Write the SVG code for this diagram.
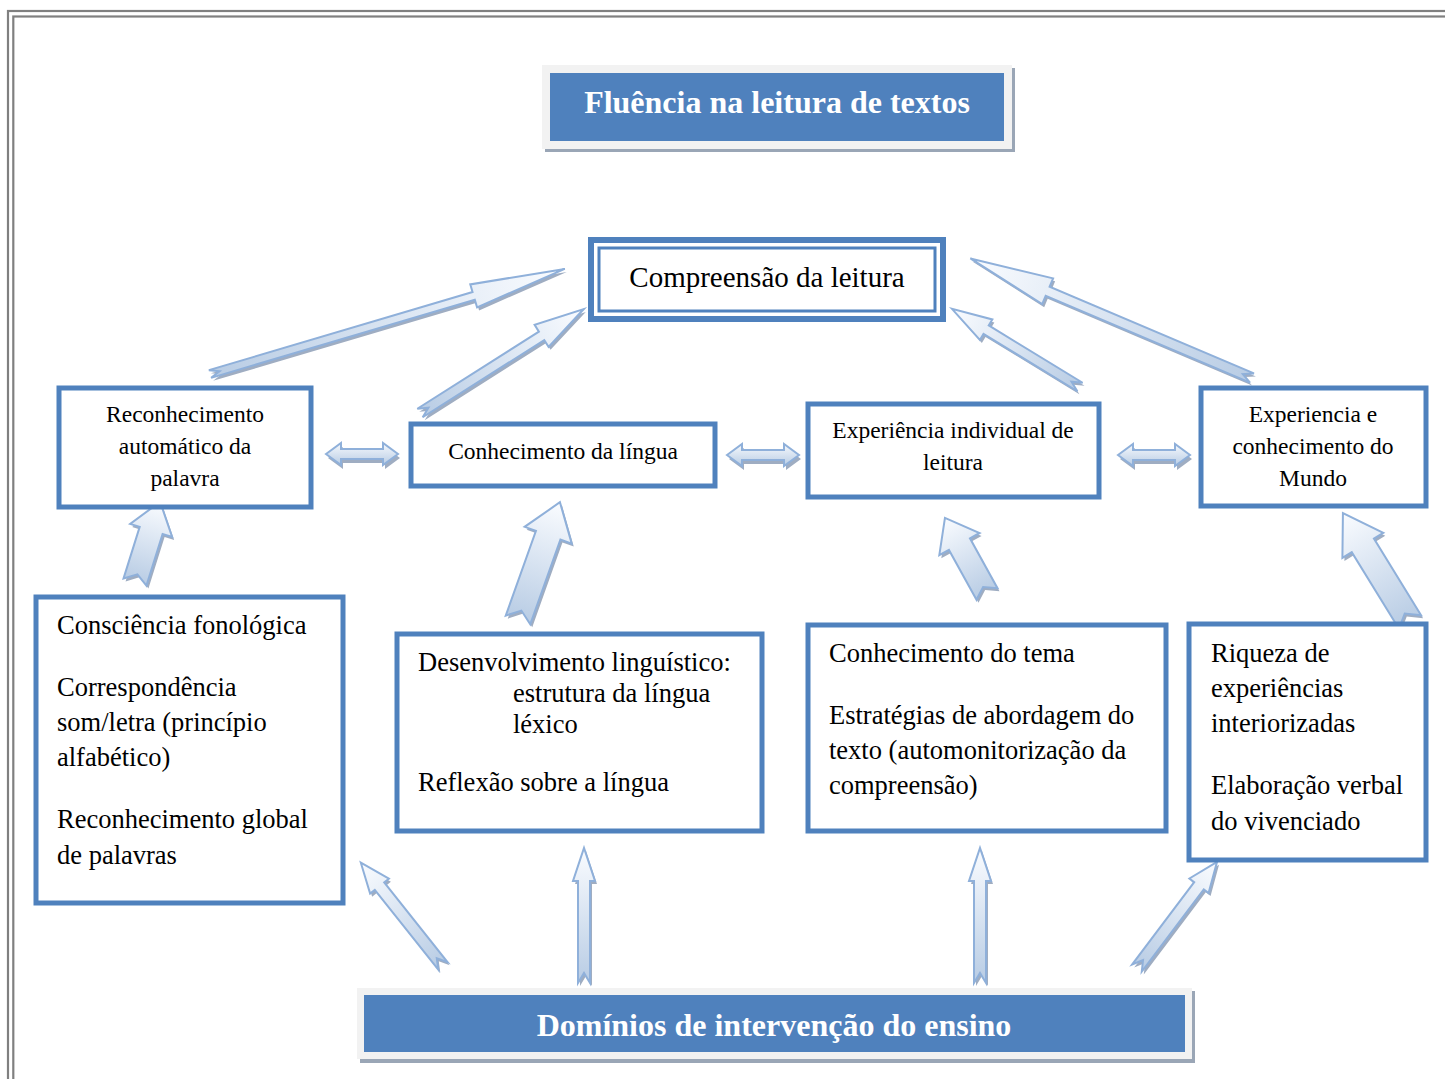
<svg xmlns="http://www.w3.org/2000/svg" xmlns:xlink="http://www.w3.org/1999/xlink" width="1445" height="1079" viewBox="0 0 1445 1079">
<style>
.frame{fill:none;stroke:#808080;stroke-width:2.2}
.box{fill:#fff;stroke:#4f81bd;stroke-width:5}
.t{font-family:"Liberation Serif","Times New Roman",serif;fill:#000}
.s{font-size:23.5px}
.l{font-size:26.5px}
.ttl{font-family:"Liberation Serif","Times New Roman",serif;font-weight:bold;font-size:32px;fill:#fff}
.arrow{fill:url(#ag);stroke:#8fb0da;stroke-width:2;stroke-linejoin:miter}
.darrow{fill:url(#dg);stroke:#8fb0da;stroke-width:2}
.shadow{fill:#9fadc2;stroke:none}
</style>
<defs>
<linearGradient id="ag" x1="0" y1="0" x2="1" y2="0">
<stop offset="0" stop-color="#b8cce4"/>
<stop offset="1" stop-color="#fafcff"/>
</linearGradient>
<linearGradient id="dg" x1="0" y1="0" x2="0" y2="1">
<stop offset="0" stop-color="#f6f9fd"/>
<stop offset="1" stop-color="#b8cce4"/>
</linearGradient>
<path id="a1" transform="translate(210,374) rotate(-16.5)" d="M0,-4 L275,-4 L275,-12 L370,0 L275,12 L275,4 L0,4 L10,0 Z"/>
<path id="a2" transform="translate(420,413) rotate(-32.4)" d="M0,-5 L144,-5 L144,-13 L194,0 L144,13 L144,5 L0,5 L10,0 Z"/>
<path id="a3" transform="translate(1252,378) rotate(-157)" d="M0,-5 L222,-5 L222,-14 L306,0 L222,14 L222,5 L0,5 L10,0 Z"/>
<path id="a4" transform="translate(1080,387) rotate(-148.6)" d="M0,-5 L110,-5 L110,-12 L150,0 L110,12 L110,5 L0,5 L10,0 Z"/>
<path id="a5" transform="translate(135,582) rotate(-72.6)" d="M0,-12 L54,-12 L54,-22 L84,0 L54,22 L54,12 L0,12 L8,0 Z"/>
<path id="a6" transform="translate(518,620) rotate(-70.4)" d="M0,-13 L90,-13 L90,-25 L125,0 L90,25 L90,13 L0,13 L10,0 Z"/>
<path id="a7" transform="translate(987,594) rotate(-118.9)" d="M0,-12 L57,-12 L57,-23 L87,0 L57,23 L57,12 L0,12 L8,0 Z"/>
<path id="a8" transform="translate(1410,622) rotate(-121.6)" d="M0,-13 L90,-13 L90,-24 L128,0 L90,24 L90,13 L0,13 L10,0 Z"/>
<path id="a9" transform="translate(443,966) rotate(-128.5)" d="M0,-6 L102,-6 L102,-12 L132,0 L102,12 L102,6 L0,6 L10,0 Z"/>
<path id="a10" transform="translate(584,983) rotate(-90)" d="M0,-6 L102,-6 L102,-11 L135,0 L102,11 L102,6 L0,6 L10,0 Z"/>
<path id="a11" transform="translate(980,983) rotate(-90)" d="M0,-6 L102,-6 L102,-11 L135,0 L102,11 L102,6 L0,6 L10,0 Z"/>
<path id="a12" transform="translate(1137,968) rotate(-53)" d="M0,-6 L103,-6 L103,-12 L133,0 L103,12 L103,6 L0,6 L10,0 Z"/>
<path id="d" d="M0,0 L15,-11 L15,-5 L57,-5 L57,-11 L72,0 L57,11 L57,5 L15,5 L15,11 Z"/>
</defs>

<g id="frame">
<rect class="frame" x="8" y="11" width="2000" height="2000"/>
<rect class="frame" x="13.3" y="16.5" width="2000" height="2000" stroke-width="2.6"/>
</g>

<g id="connectors">
<use href="#a1" class="shadow" x="2" y="3"/><use href="#a1" class="arrow"/>
<use href="#a2" class="shadow" x="2" y="3"/><use href="#a2" class="arrow"/>
<use href="#a3" class="shadow" x="2" y="3"/><use href="#a3" class="arrow"/>
<use href="#a4" class="shadow" x="2" y="3"/><use href="#a4" class="arrow"/>
<use href="#a5" class="shadow" x="2" y="3"/><use href="#a5" class="arrow"/>
<use href="#a6" class="shadow" x="2" y="3"/><use href="#a6" class="arrow"/>
<use href="#a7" class="shadow" x="2" y="3"/><use href="#a7" class="arrow"/>
<use href="#a8" class="shadow" x="2" y="3"/><use href="#a8" class="arrow"/>
<use href="#a9" class="shadow" x="2" y="3"/><use href="#a9" class="arrow"/>
<use href="#a10" class="shadow" x="2" y="3"/><use href="#a10" class="arrow"/>
<use href="#a11" class="shadow" x="2" y="3"/><use href="#a11" class="arrow"/>
<use href="#a12" class="shadow" x="2" y="3"/><use href="#a12" class="arrow"/>
<g transform="translate(326,454)"><use href="#d" class="shadow" x="2" y="4"/><use href="#d" class="darrow"/></g>
<g transform="translate(727,455)"><use href="#d" class="shadow" x="2" y="4"/><use href="#d" class="darrow"/></g>
<g transform="translate(1118,455)"><use href="#d" class="shadow" x="2" y="4"/><use href="#d" class="darrow"/></g>
</g>

<g id="title">
<rect x="545" y="68" width="470" height="84" fill="#9aa6b6"/>
<rect x="542" y="65" width="470" height="84" fill="#f2f2f2"/>
<rect x="550" y="73" width="454" height="68" fill="#4f81bd"/>
<text class="ttl" x="777" y="113" text-anchor="middle">Fluência na leitura de textos</text>
</g>

<g id="compreensao">
<rect x="591" y="240" width="352" height="79" fill="#fff" stroke="#4f81bd" stroke-width="6"/>
<rect x="599" y="248" width="336" height="63" fill="none" stroke="#4f81bd" stroke-width="3"/>
<text class="t" x="767" y="287" font-size="29" text-anchor="middle">Compreensão da leitura</text>
</g>

<g id="reconhecimento">
<rect class="box" x="59" y="388" width="252" height="119"/>
<text class="t s" text-anchor="middle"><tspan x="185" y="422">Reconhecimento</tspan><tspan x="185" y="454">automático da</tspan><tspan x="185" y="486">palavra</tspan></text>
</g>

<g id="conhecimento-lingua">
<rect class="box" x="411" y="424" width="304" height="62"/>
<text class="t s" x="563" y="459" text-anchor="middle">Conhecimento da língua</text>
</g>

<g id="experiencia-individual">
<rect class="box" x="808" y="404" width="291" height="93"/>
<text class="t s" text-anchor="middle"><tspan x="953" y="438">Experiência individual de</tspan><tspan x="953" y="470">leitura</tspan></text>
</g>

<g id="experiencia-mundo">
<rect class="box" x="1201" y="388" width="225" height="118"/>
<text class="t s" text-anchor="middle"><tspan x="1313" y="422">Experiencia e</tspan><tspan x="1313" y="454">conhecimento do</tspan><tspan x="1313" y="486">Mundo</tspan></text>
</g>

<g id="consciencia">
<rect class="box" x="36" y="597" width="307" height="306"/>
<text class="t l"><tspan x="57" y="634">Consciência fonológica</tspan><tspan x="57" y="696">Correspondência</tspan><tspan x="57" y="731">som/letra (princípio</tspan><tspan x="57" y="766">alfabético)</tspan><tspan x="57" y="828">Reconhecimento global</tspan><tspan x="57" y="864">de palavras</tspan></text>
</g>

<g id="desenvolvimento">
<rect class="box" x="397" y="634" width="365" height="197"/>
<text class="t l"><tspan x="418" y="671">Desenvolvimento linguístico:</tspan><tspan x="513" y="702">estrutura da língua</tspan><tspan x="513" y="733">léxico</tspan><tspan x="418" y="791">Reflexão sobre a língua</tspan></text>
</g>

<g id="conhecimento-tema">
<rect class="box" x="808" y="625" width="358" height="206"/>
<text class="t l"><tspan x="829" y="662">Conhecimento do tema</tspan><tspan x="829" y="724">Estratégias de abordagem do</tspan><tspan x="829" y="759">texto (automonitorização da</tspan><tspan x="829" y="794">compreensão)</tspan></text>
</g>

<g id="riqueza">
<rect class="box" x="1189" y="624" width="237" height="236"/>
<text class="t l"><tspan x="1211" y="662">Riqueza de</tspan><tspan x="1211" y="697">experiências</tspan><tspan x="1211" y="732">interiorizadas</tspan><tspan x="1211" y="794">Elaboração verbal</tspan><tspan x="1211" y="830">do vivenciado</tspan></text>
</g>

<g id="dominios">
<rect x="360" y="991" width="835" height="72" fill="#9aa6b6"/>
<rect x="357" y="988" width="835" height="71" fill="#f2f2f2"/>
<rect x="364" y="995" width="821" height="57" fill="#4f81bd"/>
<text class="ttl" x="774" y="1036" text-anchor="middle">Domínios de intervenção do ensino</text>
</g>
</svg>
